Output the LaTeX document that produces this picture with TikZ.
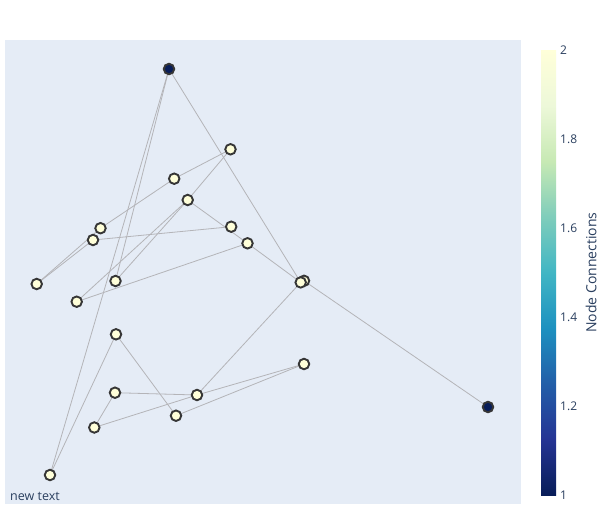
\documentclass[tikz,border=0pt]{standalone}
\usepackage{fontspec}
\setmainfont{Open Sans}
\definecolor{bgplot}{HTML}{E5ECF6}
\definecolor{txt}{HTML}{2A3F5F}
\definecolor{lightnode}{HTML}{FFFFD9}
\definecolor{darknode}{HTML}{081D58}
\definecolor{edgec}{HTML}{B4B4B8}
\definecolor{rimc}{HTML}{363636}
\definecolor{cA}{RGB}{8,29,88}
\definecolor{cB}{RGB}{37,52,148}
\definecolor{cC}{RGB}{34,94,168}
\definecolor{cD}{RGB}{29,145,192}
\definecolor{cE}{RGB}{65,182,196}
\definecolor{cF}{RGB}{127,205,187}
\definecolor{cG}{RGB}{199,233,180}
\definecolor{cH}{RGB}{237,248,217}
\definecolor{cI}{RGB}{255,255,217}
\pgfdeclareverticalshading{ylgnbu}{100bp}{color(0bp)=(cA); color(25bp)=(cA); color(31.25bp)=(cB); color(37.5bp)=(cC); color(43.75bp)=(cD); color(50bp)=(cE); color(56.25bp)=(cF); color(62.5bp)=(cG); color(68.75bp)=(cH); color(75bp)=(cI); color(100bp)=(cI)}
\pgfdeclarelayer{bg}
\pgfsetlayers{bg,main}
\tikzset{
  gnode/.style={circle, draw=rimc, line width=1.9pt, minimum size=10.5pt, inner sep=0pt, fill=lightnode},
  dnode/.style={gnode, fill=darknode},
  link/.style={draw=edgec, line width=0.8pt},
  ticklab/.style={anchor=west, text=txt, font=\fontsize{12}{14}\selectfont, inner sep=0pt},
}
\begin{document}
\begin{tikzpicture}[x=1pt,y=-1pt]
\useasboundingbox (0,0) rectangle (613,525);
\begin{pgfonlayer}{bg}
\fill[white] (0,0) rectangle (613,525);
\fill[bgplot] (5,40) rectangle (521,504);
\end{pgfonlayer}
% nodes
\node[dnode] (A) at (169,69) {};
\node[gnode] (B) at (230.5,149.3) {};
\node[gnode] (C) at (174.2,178.7) {};
\node[gnode] (D) at (187.7,200) {};
\node[gnode] (E) at (100.5,228.2) {};
\node[gnode] (F) at (93,240) {};
\node[gnode] (G) at (231.2,226.7) {};
\node[gnode] (H) at (247.5,243.3) {};
\node[gnode] (I) at (36.7,284) {};
\node[gnode] (J) at (115.5,281) {};
\node[gnode] (K) at (76.7,301.7) {};
\node[gnode] (L1) at (304,280.8) {};
\node[gnode] (L2) at (300.7,282.4) {};
\node[gnode] (M) at (116,334.3) {};
\node[gnode] (N) at (304,364) {};
\node[gnode] (O) at (115,392.7) {};
\node[gnode] (P) at (197,395) {};
\node[gnode] (Q) at (176,415.7) {};
\node[gnode] (R) at (94.3,427.5) {};
\node[gnode] (S) at (50,475) {};
\node[dnode] (T) at (488,407) {};
% edges
\begin{pgfonlayer}{bg}
\draw[link] (A.center) -- (J.center);
\draw[link] (A.center) -- (S.center);
\draw[link] (A.center) -- (L2.center);
\draw[link] (L1.center) -- (T.center);
\draw[link] (D.center) -- (H.center);
\draw[link] (H.center) -- (L2.center);
\draw[link] (B.center) -- (C.center);
\draw[link] (C.center) -- (E.center);
\draw[link] (B.center) -- (D.center);
\draw[link] (D.center) -- (J.center);
\draw[link] (D.center) -- (K.center);
\draw[link] (F.center) -- (G.center);
\draw[link] (K.center) -- (H.center);
\draw[link] (E.center) -- (I.center);
\draw[link] (F.center) -- (I.center);
\draw[link] (L2.center) -- (P.center);
\draw[link] (M.center) -- (Q.center);
\draw[link] (M.center) -- (S.center);
\draw[link] (O.center) -- (P.center);
\draw[link] (O.center) -- (R.center);
\draw[link] (R.center) -- (P.center);
\draw[link] (P.center) -- (N.center);
\draw[link] (Q.center) -- (N.center);
\end{pgfonlayer}
% annotation
\node[anchor=base west, inner sep=0pt, text=txt, font=\fontsize{12.5}{14}\selectfont] (note) at (10,500.5) {new text};
% colorbar
\fill[shading=ylgnbu] (541,50) rectangle (556,495);
\node[ticklab] (t2) at (560,50) {2};
\node[ticklab] (t18) at (560,139) {1.8};
\node[ticklab] (t16) at (560,228) {1.6};
\node[ticklab] (t14) at (560,317) {1.4};
\node[ticklab] (t12) at (560,406) {1.2};
\node[ticklab] (t1) at (560,495) {1};
\node[rotate=90, text=txt, font=\fontsize{14}{16}\selectfont, inner sep=0pt] (cbtitle) at (591,272.5) {Node Connections};
\end{tikzpicture}
\end{document}
